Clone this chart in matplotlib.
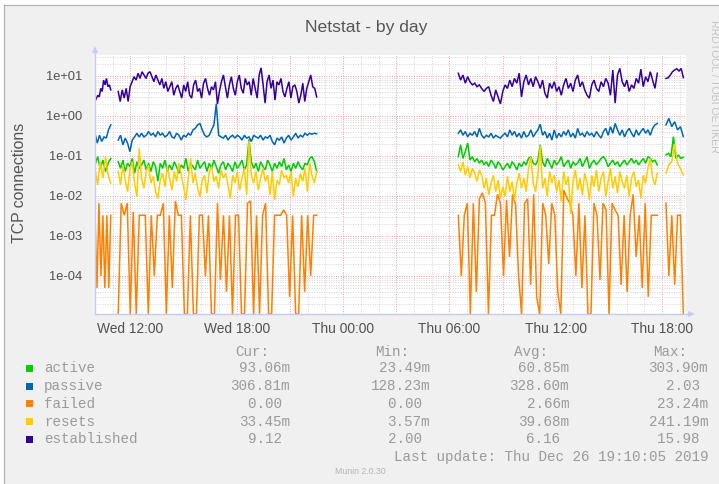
import numpy as np
import matplotlib
matplotlib.use("Agg")
import matplotlib.pyplot as plt
from matplotlib.lines import Line2D
from matplotlib.patches import Rectangle, Polygon
from matplotlib.ticker import FixedLocator, FuncFormatter, LogLocator, NullFormatter

plt.rcParams["font.family"] = ["Liberation Sans", "DejaVu Sans"]

W, H = 719, 484

# hours since Wed 00:00 for each continuous run of samples
seg_start = [10.0, 11.31, 30.50, 42.22]
seg_end = [10.89, 22.51, 41.73, 43.20]

grid_hours = list(range(12, 43, 3))
tick_hours = [12, 18, 24, 30, 36, 42]
tick_labels = ["Wed 12:00", "Wed 18:00", "Thu 00:00", "Thu 06:00", "Thu 12:00", "Thu 18:00"]

names = ["active", "passive", "failed", "resets", "established"]
colors = ["#00CC00", "#0066B3", "#FF8000", "#FFCC00", "#330099"]

# connections per second
active = [
    [0.060, 0.096, 0.049, 0.079, 0.041, 0.066, 0.087],
    [0.072, 0.049, 0.079, 0.041, 0.066, 0.054, 0.087, 0.037, 0.072, 0.049,
     0.060, 0.079, 0.045, 0.066, 0.041, 0.072, 0.054, 0.0235, 0.066, 0.049,
     0.079, 0.041, 0.060, 0.045, 0.072, 0.054, 0.037, 0.060, 0.049, 0.087,
     0.041, 0.066, 0.054, 0.045, 0.079, 0.049, 0.060, 0.072, 0.041, 0.066,
     0.049, 0.079, 0.054, 0.037, 0.060, 0.072, 0.045, 0.066, 0.054, 0.041,
     0.072, 0.049, 0.060, 0.079, 0.045, 0.060, 0.26, 0.072, 0.049, 0.066,
     0.041, 0.072, 0.054, 0.045, 0.079, 0.060, 0.041, 0.066, 0.049, 0.072,
     0.054, 0.087, 0.045, 0.060, 0.041, 0.066, 0.049, 0.072, 0.054, 0.045,
     0.066, 0.060, 0.087, 0.096, 0.072, 0.041],
    [0.096, 0.19, 0.087, 0.128, 0.21, 0.079, 0.096, 0.072, 0.087, 0.066,
     0.079, 0.060, 0.072, 0.054, 0.079, 0.066, 0.049, 0.072, 0.060, 0.045,
     0.054, 0.066, 0.049, 0.072, 0.060, 0.045, 0.066, 0.054, 0.072, 0.060,
     0.087, 0.096, 0.066, 0.060, 0.079, 0.19, 0.072, 0.054, 0.087, 0.066,
     0.049, 0.079, 0.060, 0.072, 0.096, 0.054, 0.066, 0.079, 0.049, 0.072,
     0.060, 0.066, 0.087, 0.054, 0.072, 0.096, 0.049, 0.066, 0.079, 0.060,
     0.072, 0.087, 0.096, 0.079, 0.054, 0.066, 0.079, 0.060, 0.072, 0.054,
     0.066, 0.079, 0.060, 0.072, 0.087, 0.066, 0.079, 0.060, 0.072, 0.087,
     0.066, 0.096, 0.087, 0.072, 0.079, 0.060],
    [0.106, 0.117, 0.096, 0.3039, 0.087, 0.106, 0.087, 0.09306],
]

passive = [
    [0.37, 0.21, 0.33, 0.23, 0.30, 0.28, 0.45, 0.60],
    [0.25, 0.33, 0.19, 0.28, 0.21, 0.128, 0.25, 0.30, 0.37, 0.30,
     0.37, 0.30, 0.33, 0.41, 0.33, 0.37, 0.30, 0.41, 0.33, 0.37,
     0.30, 0.33, 0.41, 0.30, 0.28, 0.37, 0.33, 0.25, 0.33, 0.30,
     0.37, 0.33, 0.45, 0.49, 0.60, 0.65, 0.45, 0.33, 0.30, 0.33,
     0.45, 0.60, 2.03, 0.33, 0.30, 0.28, 0.33, 0.25, 0.30, 0.33,
     0.28, 0.33, 0.30, 0.25, 0.33, 0.28, 0.30, 0.23, 0.33, 0.30,
     0.28, 0.33, 0.25, 0.30, 0.28, 0.33, 0.23, 0.19, 0.28, 0.25,
     0.30, 0.21, 0.28, 0.33, 0.25, 0.30, 0.37, 0.28, 0.33, 0.30,
     0.37, 0.33, 0.37, 0.35, 0.37, 0.36],
    [0.37, 0.45, 0.33, 0.41, 0.30, 0.37, 0.33, 0.41, 0.30, 0.49,
     0.33, 0.28, 0.33, 0.30, 0.37, 0.28, 0.33, 0.30, 0.28, 0.33,
     0.37, 0.30, 0.45, 0.33, 0.41, 0.30, 0.37, 0.28, 0.41, 0.30,
     0.33, 0.45, 0.30, 0.37, 0.45, 0.62, 0.33, 0.41, 0.28, 0.37,
     0.25, 0.45, 0.28, 0.37, 0.30, 0.41, 0.33, 0.45, 0.30, 0.37,
     0.28, 0.49, 0.33, 0.37, 0.30, 0.41, 0.33, 0.37, 0.30, 0.41,
     0.33, 0.28, 0.41, 0.49, 0.33, 0.54, 0.37, 0.65, 0.45, 0.33,
     0.45, 0.30, 0.41, 0.49, 0.37, 0.30, 0.45, 0.33, 0.41, 0.49,
     0.37, 0.45, 0.33, 0.49, 0.60, 0.65],
    [0.60, 0.87, 0.54, 0.72, 0.45, 0.54, 0.3068],
]

failed = [
    [0.0033, 0.00005, 0.0066, 0.0001, 0.0033, 0.00005, 0.0033, 0.00005, 0.0033],
    [0, 0.0066, 0.0033, 0.0066, 0, 0.004, 0, 0.0033, 0.0033, 0.0033,
     0, 0.0033, 0.0001, 0.0033, 0.0033, 0.0066, 0, 0.0033, 0.00005, 0.0075,
     0.0033, 0.0033, 0, 0, 0.0033, 0, 0, 0.0033, 0.0033, 0.0001,
     0.0033, 0, 0, 0.0066, 0.00008, 0.0033, 0.00004, 0.0033, 0, 0.0033,
     0.0033, 0, 0, 0.0066, 0.0075, 0, 0.0033, 0, 0.0033, 0.0066,
     0, 0, 0.0033, 0.0033, 0.0033, 0.0045, 0.0033, 0.00003, 0.0033, 0,
     0, 0.0033, 0.00004, 0.0033, 0.0001, 0.0033, 0.0033],
    [0.0033, 0.0001, 0.0033, 0.0066, 0, 0.0066, 0.00004, 0.0085, 0.012, 0.0066,
     0, 0.0033, 0.0033, 0.011, 0.0066, 0.0001, 0.008, 0.0003, 0.011, 0.006,
     0.0001, 0, 0.0066, 0.0085, 0.00006, 0.011, 0.00003, 0, 0.0066, 0.0033,
     0.0002, 0.0066, 0.0033, 0.00004, 0, 0.014, 0.009, 0.0066, 0.0033, 0.0001,
     0.0066, 0.00005, 0.0033, 0, 0, 0.0066, 0.0033, 0.00008, 0.0066, 0.0045,
     0, 0.0066, 0.0045, 0.0033, 0.00006, 0.0033, 0.00004, 0.0033, 0.011, 0.0003,
     0.0033, 0.00005, 0.0066, 0.00003, 0.0033, 0.0033, 0.0033],
    [0.0066, 0.0001, 0.0033, 0.00006, 0.0033, 0.0033, 0],
]

resets = [
    [0.049, 0.019, 0.072, 0.028, 0.096, 0.033, 0.021],
    [0.041, 0.019, 0.060, 0.025, 0.0128, 0.045, 0.072, 0.021, 0.0097, 0.155,
     0.028, 0.0155, 0.041, 0.060, 0.021, 0.031, 0.0128, 0.0087, 0.025, 0.037,
     0.017, 0.054, 0.028, 0.014, 0.041, 0.023, 0.066, 0.033, 0.017, 0.0080,
     0.028, 0.087, 0.021, 0.037, 0.0155, 0.0097, 0.025, 0.033, 0.0117, 0.041,
     0.054, 0.023, 0.031, 0.0155, 0.045, 0.028, 0.037, 0.019, 0.0087, 0.033,
     0.021, 0.041, 0.014, 0.028, 0.049, 0.0106, 0.2412, 0.033, 0.021, 0.041,
     0.014, 0.028, 0.049, 0.023, 0.033, 0.0106, 0.041, 0.0080, 0.025, 0.019,
     0.045, 0.028, 0.033, 0.021, 0.041, 0.0097, 0.028, 0.017, 0.037, 0.023,
     0.049, 0.0128, 0.066, 0.033, 0.021, 0.041],
    [0.060, 0.041, 0.072, 0.033, 0.054, 0.028, 0.049, 0.037, 0.023, 0.045,
     0.033, 0.0155, 0.028, 0.0106, 0.021, 0.033, 0.0128, 0.025, 0.0087, 0.017,
     0.0097, 0.031, 0.0128, 0.023, 0.0080, 0.021, 0.037, 0.0155, 0.028, 0.0128,
     0.049, 0.096, 0.021, 0.0128, 0.037, 0.18, 0.0155, 0.028, 0.0097, 0.041,
     0.021, 0.033, 0.0128, 0.025, 0.0072, 0.041, 0.019, 0.031, 0.00357, 0.023,
     0.045, 0.014, 0.028, 0.0106, 0.037, 0.021, 0.0080, 0.033, 0.017, 0.045,
     0.0128, 0.028, 0.041, 0.0097, 0.023, 0.049, 0.0155, 0.031, 0.0117, 0.041,
     0.023, 0.0155, 0.033, 0.0097, 0.028, 0.041, 0.017, 0.025, 0.0087, 0.033,
     0.021, 0.049, 0.087, 0.028, 0.019, 0.037],
    [0.037, 0.060, 0.072, 0.20, 0.066, 0.049, 0.03345],
]

established = [
    [2.3, 2.8, 3.3, 3.0, 4.9, 4.1, 7.9, 6.0, 8.7, 5.4, 6.0, 4.5],
    [4.1, 2.3, 4.5, 2.8, 4.9, 2.3, 5.4, 7.2, 9.6, 7.9,
     11.7, 8.7, 12.8, 10.6, 8.7, 11.7, 12.8, 9.6, 7.2, 10.6,
     7.9, 6.0, 8.7, 4.9, 7.2, 4.1, 5.4, 7.2, 3.3, 4.9,
     6.0, 4.1, 2.8, 6.0, 4.1, 7.2, 3.3, 2.8, 6.0, 7.9,
     4.1, 4.9, 2.8, 6.6, 8.7, 4.9, 3.3, 5.4, 4.5, 7.2,
     2.0, 4.1, 7.2, 10.6, 5.4, 2.8, 6.0, 9.6, 4.9, 3.3,
     7.2, 10.6, 4.9, 3.7, 8.7, 6.0, 7.2, 3.3, 8.7, 4.9,
     2.8, 10.6, 15.98, 6.0, 2.1, 7.2, 10.6, 4.9, 7.9, 2.5,
     7.2, 6.0, 8.7, 4.1, 3.0, 4.9, 7.2, 2.8, 5.4, 6.0,
     4.1, 2.1, 3.3, 6.6, 2.3, 4.9, 7.2, 10.6, 5.4, 4.9,
     3.0],
    [11.7, 7.9, 10.6, 6.6, 9.6, 7.2, 6.0, 6.6, 5.4, 6.0,
     4.9, 4.1, 4.9, 5.4, 3.3, 2.3, 4.5, 3.0, 2.0, 4.1,
     6.0, 4.9, 7.9, 5.4, 8.7, 6.6, 11.7, 3.0, 7.2, 10.6,
     6.0, 8.7, 5.4, 9.6, 7.2, 4.9, 7.9, 3.7, 2.8, 6.6,
     4.9, 7.2, 4.1, 5.4, 3.3, 6.0, 8.7, 4.9, 6.6, 4.1,
     7.9, 10.6, 5.4, 7.2, 4.5, 3.3, 2.8, 6.0, 7.9, 4.9,
     4.1, 7.2, 5.4, 8.7, 6.6, 3.3, 14.1, 2.1, 10.6, 15.5,
     7.2, 5.4, 7.9, 4.1, 6.0, 4.9, 8.7, 6.6, 14.8, 5.4,
     9.6, 7.2, 12.8, 7.9, 4.9, 11.7],
    [8.7, 9.0, 10.6, 12.8, 14.1, 15.2, 13.2, 15.5, 9.12],
]

series = [active, passive, failed, resets, established]

# legend table, as printed under the graph
cur_txt = ["93.06m", "306.81m", "0.00 ", "33.45m", "9.12 "]
min_txt = ["23.49m", "128.23m", "0.00 ", "3.57m", "2.00 "]
avg_txt = ["60.85m", "328.60m", "2.66m", "39.68m", "6.16 "]
max_txt = ["303.90m", "2.03 ", "23.24m", "241.19m", "15.98 "]
last_update = "Last update: Thu Dec 26 19:10:05 2019"

y_lo, y_hi = 1.12e-5, 33.5
x_lo, x_hi = 10.0, 43.35


def fx(px):
    return px / W


def fy(py):
    return 1 - py / H


fig = plt.figure(figsize=(W / 100, H / 100), dpi=100, facecolor="white")

# canvas background and frame
fig.add_artist(Rectangle((fx(4), 0), 1 - fx(4), fy(5), transform=fig.transFigure,
                         facecolor="#F0F0F0", edgecolor="none", zorder=-10))
fig.add_artist(Line2D([fx(4), fx(4)], [0, fy(5)], transform=fig.transFigure,
                      color="#B4B4B4", lw=0.9))
fig.add_artist(Line2D([fx(4), 1], [fy(5), fy(5)], transform=fig.transFigure,
                      color="#B4B4B4", lw=0.9))

ax = fig.add_axes([fx(95), fy(314), fx(686) - fx(95), fy(55) - fy(314)])
ax.set_facecolor("white")
ax.set_yscale("log")
ax.set_xlim(x_lo, x_hi)
ax.set_ylim(y_lo, y_hi)
for s in ax.spines.values():
    s.set_visible(False)

ax.xaxis.set_major_locator(FixedLocator(grid_hours))
ax.set_xticklabels([tick_labels[tick_hours.index(h)] if h in tick_hours else ""
                    for h in grid_hours])
ax.xaxis.set_minor_locator(FixedLocator(np.arange(10, 44, 1)))
ax.yaxis.set_major_locator(LogLocator(base=10, numticks=20))
ax.yaxis.set_minor_locator(LogLocator(base=10, subs=np.arange(2, 10), numticks=20))
ax.yaxis.set_major_formatter(FuncFormatter(lambda v, p: f"{v:.0e}"))
ax.yaxis.set_minor_formatter(NullFormatter())

ax.tick_params(axis="x", which="major", length=0, pad=6, labelsize=9.9, labelcolor="#505050")
ax.tick_params(axis="y", which="major", length=0, pad=9, labelsize=9.3, labelcolor="#505050")
ax.tick_params(which="minor", length=0)

ax.set_axisbelow(True)
ax.grid(which="minor", color="#D4D4D4", linestyle=(0, (1, 1.5)), lw=0.7)
ax.grid(which="major", color="#F29A9A", linestyle=(0, (1, 1.5)), lw=0.7)

for vals_by_seg, c in zip(series, colors):
    for s0, s1, vals in zip(seg_start, seg_end, vals_by_seg):
        v = np.array(vals, dtype=float)
        v = np.where(v > 0, v, y_lo)  # zero sits on the bottom edge
        t = np.linspace(s0, s1, len(v))
        ax.plot(t, v, color=c, lw=1.1, solid_joinstyle="miter", zorder=3)

# axes with arrow heads
axis_col = "#C4CCF4"
fig.add_artist(Line2D([fx(95), fx(95)], [fy(314), fy(50)], transform=fig.transFigure,
                      color=axis_col, lw=1.0, zorder=5))
fig.add_artist(Line2D([fx(95), fx(690)], [fy(314), fy(314)], transform=fig.transFigure,
                      color=axis_col, lw=1.0, zorder=5))
fig.add_artist(Polygon([[fx(92), fy(53)], [fx(98), fy(53)], [fx(95), fy(46)]],
                       closed=True, transform=fig.transFigure, facecolor=axis_col,
                       edgecolor="none", zorder=5))
fig.add_artist(Polygon([[fx(688), fy(311)], [fx(688), fy(317)], [fx(695), fy(314)]],
                       closed=True, transform=fig.transFigure, facecolor=axis_col,
                       edgecolor="none", zorder=5))

fig.text(fx(366.5), fy(32.3), "Netstat - by day", ha="center", va="baseline",
         fontsize=12.6, color="#555555")
fig.text(fx(20), fy(183), "TCP connections", rotation=90, ha="center", va="center",
         fontsize=11.4, color="#555555")
fig.text(fx(714), fy(86), "RRDTOOL / TOBI OETIKER", rotation=-90, ha="center",
         va="center", fontsize=7.6, color="#C4C4C4")

# legend block
mono = "Liberation Mono"
leg_col = "#9A9A9A"
leg_size = 10.3
col_right = [290, 430, 569, 708]
headers = ["Cur:", "Min:", "Avg:", "Max:"]
for xr, hd in zip(col_right, headers):
    fig.text(fx(xr - 21), fy(351.7), hd, ha="right", va="center", family=mono,
             fontsize=leg_size, color=leg_col)

row_y = [368.5, 386.2, 403.9, 421.6, 439.3]
for i, name in enumerate(names):
    y = row_y[i]
    fig.add_artist(Rectangle((fx(25.5), fy(y + 3.5)), 7 / W, 7 / H,
                             transform=fig.transFigure, facecolor=colors[i],
                             edgecolor="none"))
    fig.text(fx(44), fy(y), name, ha="left", va="center", family=mono,
             fontsize=leg_size, color=leg_col)
    for xr, col in zip(col_right, [cur_txt, min_txt, avg_txt, max_txt]):
        fig.text(fx(xr), fy(y), col[i], ha="right", va="center", family=mono,
                 fontsize=leg_size, color=leg_col)

fig.text(fx(708), fy(457), last_update, ha="right", va="center", family=mono,
         fontsize=leg_size, color=leg_col)
fig.text(fx(335), fy(471), "Munin 2.0.30", ha="left", va="center",
         fontsize=6.3, color="#B4B4B4")

fig.savefig("out.png", dpi=100, facecolor=fig.get_facecolor())
